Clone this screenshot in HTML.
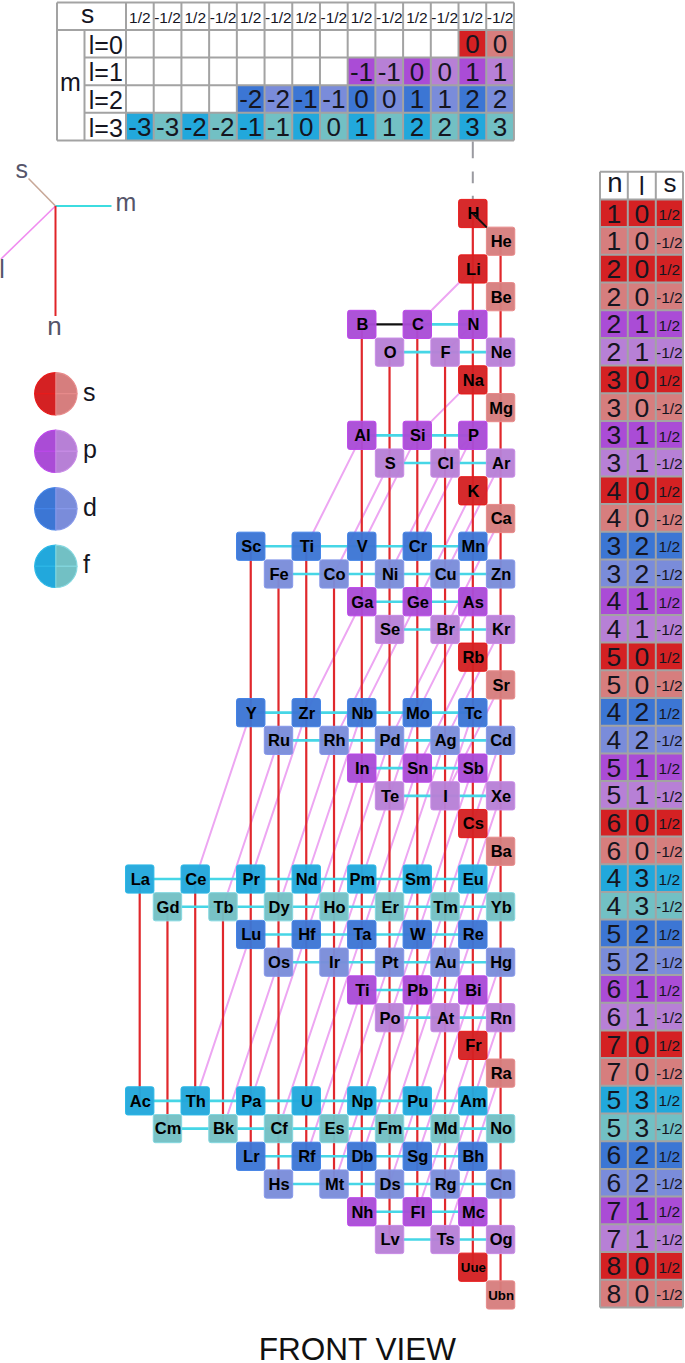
<!DOCTYPE html>
<html><head><meta charset="utf-8"><title>Quantum numbers periodic table - front view</title>
<style>
html,body{margin:0;padding:0;background:#fff;}
body{width:685px;height:1363px;overflow:hidden;}
svg{display:block;}
text{font-family:"Liberation Sans",sans-serif;text-anchor:middle;fill:#15151f;}
.tn{font-size:26px;}
.tr{font-size:26.5px;}
.th{font-size:25px;}
.ts{font-size:15.5px;}
.ax{font-size:25px;fill:#55556a;}
.lg{font-size:25px;text-anchor:start;}
.el{font-size:16.5px;font-weight:bold;fill:#000;}
.es{font-size:13.3px;font-weight:bold;fill:#000;}
.cap{font-size:31.5px;fill:#111;}
</style></head>
<body><svg width="685" height="1363" viewBox="0 0 685 1363">
<rect width="685" height="1363" fill="#fff"/>
<rect x="458.52" y="30.00" width="27.71" height="27.60" fill="#d42123"/>
<text x="472.38" y="53.00" class="tn">0</text>
<rect x="486.23" y="30.00" width="27.71" height="27.60" fill="#d67e7e"/>
<text x="500.09" y="53.00" class="tn">0</text>
<rect x="347.68" y="57.60" width="27.71" height="27.60" fill="#aa4cd6"/>
<text x="361.53" y="80.60" class="tn">-1</text>
<rect x="375.39" y="57.60" width="27.71" height="27.60" fill="#b780d6"/>
<text x="389.25" y="80.60" class="tn">-1</text>
<rect x="403.10" y="57.60" width="27.71" height="27.60" fill="#aa4cd6"/>
<text x="416.96" y="80.60" class="tn">0</text>
<rect x="430.81" y="57.60" width="27.71" height="27.60" fill="#b780d6"/>
<text x="444.66" y="80.60" class="tn">0</text>
<rect x="458.52" y="57.60" width="27.71" height="27.60" fill="#aa4cd6"/>
<text x="472.38" y="80.60" class="tn">1</text>
<rect x="486.23" y="57.60" width="27.71" height="27.60" fill="#b780d6"/>
<text x="500.09" y="80.60" class="tn">1</text>
<rect x="236.84" y="85.20" width="27.71" height="27.60" fill="#3c76d4"/>
<text x="250.69" y="108.20" class="tn">-2</text>
<rect x="264.55" y="85.20" width="27.71" height="27.60" fill="#7a8cda"/>
<text x="278.40" y="108.20" class="tn">-2</text>
<rect x="292.26" y="85.20" width="27.71" height="27.60" fill="#3c76d4"/>
<text x="306.12" y="108.20" class="tn">-1</text>
<rect x="319.97" y="85.20" width="27.71" height="27.60" fill="#7a8cda"/>
<text x="333.83" y="108.20" class="tn">-1</text>
<rect x="347.68" y="85.20" width="27.71" height="27.60" fill="#3c76d4"/>
<text x="361.53" y="108.20" class="tn">0</text>
<rect x="375.39" y="85.20" width="27.71" height="27.60" fill="#7a8cda"/>
<text x="389.25" y="108.20" class="tn">0</text>
<rect x="403.10" y="85.20" width="27.71" height="27.60" fill="#3c76d4"/>
<text x="416.96" y="108.20" class="tn">1</text>
<rect x="430.81" y="85.20" width="27.71" height="27.60" fill="#7a8cda"/>
<text x="444.66" y="108.20" class="tn">1</text>
<rect x="458.52" y="85.20" width="27.71" height="27.60" fill="#3c76d4"/>
<text x="472.38" y="108.20" class="tn">2</text>
<rect x="486.23" y="85.20" width="27.71" height="27.60" fill="#7a8cda"/>
<text x="500.09" y="108.20" class="tn">2</text>
<rect x="126.00" y="112.80" width="27.71" height="27.60" fill="#22a8dc"/>
<text x="139.86" y="135.80" class="tn">-3</text>
<rect x="153.71" y="112.80" width="27.71" height="27.60" fill="#72c0c4"/>
<text x="167.56" y="135.80" class="tn">-3</text>
<rect x="181.42" y="112.80" width="27.71" height="27.60" fill="#22a8dc"/>
<text x="195.28" y="135.80" class="tn">-2</text>
<rect x="209.13" y="112.80" width="27.71" height="27.60" fill="#72c0c4"/>
<text x="222.99" y="135.80" class="tn">-2</text>
<rect x="236.84" y="112.80" width="27.71" height="27.60" fill="#22a8dc"/>
<text x="250.69" y="135.80" class="tn">-1</text>
<rect x="264.55" y="112.80" width="27.71" height="27.60" fill="#72c0c4"/>
<text x="278.40" y="135.80" class="tn">-1</text>
<rect x="292.26" y="112.80" width="27.71" height="27.60" fill="#22a8dc"/>
<text x="306.12" y="135.80" class="tn">0</text>
<rect x="319.97" y="112.80" width="27.71" height="27.60" fill="#72c0c4"/>
<text x="333.83" y="135.80" class="tn">0</text>
<rect x="347.68" y="112.80" width="27.71" height="27.60" fill="#22a8dc"/>
<text x="361.53" y="135.80" class="tn">1</text>
<rect x="375.39" y="112.80" width="27.71" height="27.60" fill="#72c0c4"/>
<text x="389.25" y="135.80" class="tn">1</text>
<rect x="403.10" y="112.80" width="27.71" height="27.60" fill="#22a8dc"/>
<text x="416.96" y="135.80" class="tn">2</text>
<rect x="430.81" y="112.80" width="27.71" height="27.60" fill="#72c0c4"/>
<text x="444.66" y="135.80" class="tn">2</text>
<rect x="458.52" y="112.80" width="27.71" height="27.60" fill="#22a8dc"/>
<text x="472.38" y="135.80" class="tn">3</text>
<rect x="486.23" y="112.80" width="27.71" height="27.60" fill="#72c0c4"/>
<text x="500.09" y="135.80" class="tn">3</text>
<path d="M57.0 2.4H513.94 M57.0 30.0H513.94 M84.5 57.60H513.94 M84.5 85.20H513.94 M84.5 112.80H513.94 M57.0 140.40H513.94 M57.0 2.4V140.40 M84.5 30.00V140.40 M126.00 2.4V140.40 M153.71 2.4V140.40 M181.42 2.4V140.40 M209.13 2.4V140.40 M236.84 2.4V140.40 M264.55 2.4V140.40 M292.26 2.4V140.40 M319.97 2.4V140.40 M347.68 2.4V140.40 M375.39 2.4V140.40 M403.10 2.4V140.40 M430.81 2.4V140.40 M458.52 2.4V140.40 M486.23 2.4V140.40 M513.94 2.4V140.40" stroke="#a3a3a3" stroke-width="2" fill="none"/>
<text x="87.6" y="23.3" class="th" style="font-size:26.5px">s</text>
<text x="139.86" y="23" class="ts">1/2</text>
<text x="167.56" y="23" class="ts">-1/2</text>
<text x="195.28" y="23" class="ts">1/2</text>
<text x="222.99" y="23" class="ts">-1/2</text>
<text x="250.69" y="23" class="ts">1/2</text>
<text x="278.40" y="23" class="ts">-1/2</text>
<text x="306.12" y="23" class="ts">1/2</text>
<text x="333.83" y="23" class="ts">-1/2</text>
<text x="361.53" y="23" class="ts">1/2</text>
<text x="389.25" y="23" class="ts">-1/2</text>
<text x="416.96" y="23" class="ts">1/2</text>
<text x="444.66" y="23" class="ts">-1/2</text>
<text x="472.38" y="23" class="ts">1/2</text>
<text x="500.09" y="23" class="ts">-1/2</text>
<text x="70.5" y="90.5" class="th">m</text>
<text x="105.8" y="53.80" class="th">l=0</text>
<text x="105.8" y="81.40" class="th">l=1</text>
<text x="105.8" y="109.00" class="th">l=2</text>
<text x="105.8" y="136.60" class="th">l=3</text>
<path d="M472.8 141.5V158.3M472.8 171.4V183.3M472.8 195.8V199" stroke="#9a9aa0" stroke-width="2" fill="none"/>
<path d="M55.5 206L28.5 178.5" stroke="#c8a898" stroke-width="1.6" fill="none"/>
<path d="M55.5 206L1 259" stroke="#f08cf0" stroke-width="1.6" fill="none"/>
<path d="M55.5 206H111.5" stroke="#3cdce0" stroke-width="2.2" fill="none"/>
<path d="M55.5 206V316" stroke="#e02428" stroke-width="2" fill="none"/>
<text x="21.8" y="178" class="ax">s</text>
<text x="126" y="211" class="ax">m</text>
<text x="2" y="278" class="ax">l</text>
<text x="54.5" y="334.5" class="ax" style="font-size:26px">n</text>
<path d="M55.85 393.8V372.60A21.2 21.2 0 0 0 34.65 393.8Z" fill="#d42123" stroke="#e81818" stroke-width="1.1" stroke-linejoin="round"/>
<path d="M55.85 393.8V415.00A21.2 21.2 0 0 1 34.65 393.8Z" fill="#d42123" stroke="#e81818" stroke-width="1.1" stroke-linejoin="round"/>
<path d="M55.85 393.8V372.60A21.2 21.2 0 0 1 77.05 393.8Z" fill="#d67e7e" stroke="#e88a8a" stroke-width="1.1" stroke-linejoin="round"/>
<path d="M55.85 393.8V415.00A21.2 21.2 0 0 0 77.05 393.8Z" fill="#d67e7e" stroke="#e88a8a" stroke-width="1.1" stroke-linejoin="round"/>
<text x="83" y="400.8" class="lg">s</text>
<path d="M55.85 451.3V430.10A21.2 21.2 0 0 0 34.65 451.3Z" fill="#aa4cd6" stroke="#bc46ea" stroke-width="1.1" stroke-linejoin="round"/>
<path d="M55.85 451.3V472.50A21.2 21.2 0 0 1 34.65 451.3Z" fill="#aa4cd6" stroke="#bc46ea" stroke-width="1.1" stroke-linejoin="round"/>
<path d="M55.85 451.3V430.10A21.2 21.2 0 0 1 77.05 451.3Z" fill="#b780d6" stroke="#c88ae6" stroke-width="1.1" stroke-linejoin="round"/>
<path d="M55.85 451.3V472.50A21.2 21.2 0 0 0 77.05 451.3Z" fill="#b780d6" stroke="#c88ae6" stroke-width="1.1" stroke-linejoin="round"/>
<text x="83" y="458.3" class="lg">p</text>
<path d="M55.85 508.8V487.60A21.2 21.2 0 0 0 34.65 508.8Z" fill="#3c76d4" stroke="#4282e6" stroke-width="1.1" stroke-linejoin="round"/>
<path d="M55.85 508.8V530.00A21.2 21.2 0 0 1 34.65 508.8Z" fill="#3c76d4" stroke="#4282e6" stroke-width="1.1" stroke-linejoin="round"/>
<path d="M55.85 508.8V487.60A21.2 21.2 0 0 1 77.05 508.8Z" fill="#7a8cda" stroke="#8698ea" stroke-width="1.1" stroke-linejoin="round"/>
<path d="M55.85 508.8V530.00A21.2 21.2 0 0 0 77.05 508.8Z" fill="#7a8cda" stroke="#8698ea" stroke-width="1.1" stroke-linejoin="round"/>
<text x="83" y="515.8" class="lg">d</text>
<path d="M55.85 566.3V545.10A21.2 21.2 0 0 0 34.65 566.3Z" fill="#22a8dc" stroke="#2cb8e6" stroke-width="1.1" stroke-linejoin="round"/>
<path d="M55.85 566.3V587.50A21.2 21.2 0 0 1 34.65 566.3Z" fill="#22a8dc" stroke="#2cb8e6" stroke-width="1.1" stroke-linejoin="round"/>
<path d="M55.85 566.3V545.10A21.2 21.2 0 0 1 77.05 566.3Z" fill="#72c0c4" stroke="#84d8e0" stroke-width="1.1" stroke-linejoin="round"/>
<path d="M55.85 566.3V587.50A21.2 21.2 0 0 0 77.05 566.3Z" fill="#72c0c4" stroke="#84d8e0" stroke-width="1.1" stroke-linejoin="round"/>
<text x="83" y="573.3" class="lg">f</text>
<path d="M472.82 268.96L417.30 324.42 M500.58 296.69L445.06 352.15 M472.82 379.88L417.30 435.34 M500.58 407.61L445.06 463.07 M361.78 435.34L306.26 546.26 M417.30 435.34L361.78 546.26 M472.82 435.34L417.30 546.26 M389.54 463.07L334.02 573.99 M445.06 463.07L389.54 573.99 M500.58 463.07L445.06 573.99 M472.82 490.80L417.30 601.72 M500.58 518.53L445.06 629.45 M361.78 601.72L306.26 712.64 M417.30 601.72L361.78 712.64 M472.82 601.72L417.30 712.64 M389.54 629.45L334.02 740.37 M445.06 629.45L389.54 740.37 M500.58 629.45L445.06 740.37 M472.82 657.18L417.30 768.10 M500.58 684.91L445.06 795.83 M250.74 712.64L195.22 879.02 M306.26 712.64L250.74 879.02 M361.78 712.64L306.26 879.02 M417.30 712.64L361.78 879.02 M472.82 712.64L417.30 879.02 M278.50 740.37L222.98 906.75 M334.02 740.37L278.50 906.75 M389.54 740.37L334.02 906.75 M445.06 740.37L389.54 906.75 M500.58 740.37L445.06 906.75 M361.78 768.10L306.26 934.48 M417.30 768.10L361.78 934.48 M472.82 768.10L417.30 934.48 M389.54 795.83L334.02 962.21 M445.06 795.83L389.54 962.21 M500.58 795.83L445.06 962.21 M472.82 823.56L417.30 989.94 M500.58 851.29L445.06 1017.67 M250.74 934.48L195.22 1100.86 M306.26 934.48L250.74 1100.86 M361.78 934.48L306.26 1100.86 M417.30 934.48L361.78 1100.86 M472.82 934.48L417.30 1100.86 M278.50 962.21L222.98 1128.59 M334.02 962.21L278.50 1128.59 M389.54 962.21L334.02 1128.59 M445.06 962.21L389.54 1128.59 M500.58 962.21L445.06 1128.59 M361.78 989.94L306.26 1156.32 M417.30 989.94L361.78 1156.32 M472.82 989.94L417.30 1156.32 M389.54 1017.67L334.02 1184.05 M445.06 1017.67L389.54 1184.05 M500.58 1017.67L445.06 1184.05 M472.82 1045.40L417.30 1211.78 M500.58 1073.13L445.06 1239.51" stroke="#eda6f2" stroke-width="2" fill="none"/>
<path d="M472.82 213.50L472.82 268.96 M500.58 241.23L500.58 296.69 M472.82 268.96L472.82 379.88 M500.58 296.69L500.58 407.61 M361.78 324.42L361.78 435.34 M417.30 324.42L417.30 435.34 M472.82 324.42L472.82 435.34 M389.54 352.15L389.54 463.07 M445.06 352.15L445.06 463.07 M500.58 352.15L500.58 463.07 M472.82 379.88L472.82 490.80 M500.58 407.61L500.58 518.53 M361.78 435.34L361.78 601.72 M417.30 435.34L417.30 601.72 M472.82 435.34L472.82 601.72 M389.54 463.07L389.54 629.45 M445.06 463.07L445.06 629.45 M500.58 463.07L500.58 629.45 M472.82 490.80L472.82 657.18 M500.58 518.53L500.58 684.91 M250.74 546.26L250.74 712.64 M306.26 546.26L306.26 712.64 M361.78 546.26L361.78 712.64 M417.30 546.26L417.30 712.64 M472.82 546.26L472.82 712.64 M278.50 573.99L278.50 740.37 M334.02 573.99L334.02 740.37 M389.54 573.99L389.54 740.37 M445.06 573.99L445.06 740.37 M500.58 573.99L500.58 740.37 M361.78 601.72L361.78 768.10 M417.30 601.72L417.30 768.10 M472.82 601.72L472.82 768.10 M389.54 629.45L389.54 795.83 M445.06 629.45L445.06 795.83 M500.58 629.45L500.58 795.83 M472.82 657.18L472.82 823.56 M500.58 684.91L500.58 851.29 M250.74 712.64L250.74 934.48 M306.26 712.64L306.26 934.48 M361.78 712.64L361.78 934.48 M417.30 712.64L417.30 934.48 M472.82 712.64L472.82 934.48 M278.50 740.37L278.50 962.21 M334.02 740.37L334.02 962.21 M389.54 740.37L389.54 962.21 M445.06 740.37L445.06 962.21 M500.58 740.37L500.58 962.21 M361.78 768.10L361.78 989.94 M417.30 768.10L417.30 989.94 M472.82 768.10L472.82 989.94 M389.54 795.83L389.54 1017.67 M445.06 795.83L445.06 1017.67 M500.58 795.83L500.58 1017.67 M472.82 823.56L472.82 1045.40 M500.58 851.29L500.58 1073.13 M139.70 879.02L139.70 1100.86 M195.22 879.02L195.22 1100.86 M250.74 879.02L250.74 1100.86 M306.26 879.02L306.26 1100.86 M361.78 879.02L361.78 1100.86 M417.30 879.02L417.30 1100.86 M472.82 879.02L472.82 1100.86 M167.46 906.75L167.46 1128.59 M222.98 906.75L222.98 1128.59 M278.50 906.75L278.50 1128.59 M334.02 906.75L334.02 1128.59 M389.54 906.75L389.54 1128.59 M445.06 906.75L445.06 1128.59 M500.58 906.75L500.58 1128.59 M250.74 934.48L250.74 1156.32 M306.26 934.48L306.26 1156.32 M361.78 934.48L361.78 1156.32 M417.30 934.48L417.30 1156.32 M472.82 934.48L472.82 1156.32 M278.50 962.21L278.50 1184.05 M334.02 962.21L334.02 1184.05 M389.54 962.21L389.54 1184.05 M445.06 962.21L445.06 1184.05 M500.58 962.21L500.58 1184.05 M361.78 989.94L361.78 1211.78 M417.30 989.94L417.30 1211.78 M472.82 989.94L472.82 1211.78 M389.54 1017.67L389.54 1239.51 M445.06 1017.67L445.06 1239.51 M500.58 1017.67L500.58 1239.51 M472.82 1045.40L472.82 1267.24 M500.58 1073.13L500.58 1294.97" stroke="#e0282c" stroke-width="2.2" fill="none"/>
<path d="M417.30 324.42L472.82 324.42 M389.54 352.15L445.06 352.15 M445.06 352.15L500.58 352.15 M361.78 435.34L417.30 435.34 M417.30 435.34L472.82 435.34 M389.54 463.07L445.06 463.07 M445.06 463.07L500.58 463.07 M250.74 546.26L306.26 546.26 M306.26 546.26L361.78 546.26 M361.78 546.26L417.30 546.26 M417.30 546.26L472.82 546.26 M278.50 573.99L334.02 573.99 M334.02 573.99L389.54 573.99 M389.54 573.99L445.06 573.99 M445.06 573.99L500.58 573.99 M361.78 601.72L417.30 601.72 M417.30 601.72L472.82 601.72 M389.54 629.45L445.06 629.45 M445.06 629.45L500.58 629.45 M250.74 712.64L306.26 712.64 M306.26 712.64L361.78 712.64 M361.78 712.64L417.30 712.64 M417.30 712.64L472.82 712.64 M278.50 740.37L334.02 740.37 M334.02 740.37L389.54 740.37 M389.54 740.37L445.06 740.37 M445.06 740.37L500.58 740.37 M361.78 768.10L417.30 768.10 M417.30 768.10L472.82 768.10 M389.54 795.83L445.06 795.83 M445.06 795.83L500.58 795.83 M139.70 879.02L195.22 879.02 M195.22 879.02L250.74 879.02 M250.74 879.02L306.26 879.02 M306.26 879.02L361.78 879.02 M361.78 879.02L417.30 879.02 M417.30 879.02L472.82 879.02 M167.46 906.75L222.98 906.75 M222.98 906.75L278.50 906.75 M278.50 906.75L334.02 906.75 M334.02 906.75L389.54 906.75 M389.54 906.75L445.06 906.75 M445.06 906.75L500.58 906.75 M250.74 934.48L306.26 934.48 M306.26 934.48L361.78 934.48 M361.78 934.48L417.30 934.48 M417.30 934.48L472.82 934.48 M278.50 962.21L334.02 962.21 M334.02 962.21L389.54 962.21 M389.54 962.21L445.06 962.21 M445.06 962.21L500.58 962.21 M361.78 989.94L417.30 989.94 M417.30 989.94L472.82 989.94 M389.54 1017.67L445.06 1017.67 M445.06 1017.67L500.58 1017.67 M139.70 1100.86L195.22 1100.86 M195.22 1100.86L250.74 1100.86 M250.74 1100.86L306.26 1100.86 M306.26 1100.86L361.78 1100.86 M361.78 1100.86L417.30 1100.86 M417.30 1100.86L472.82 1100.86 M167.46 1128.59L222.98 1128.59 M222.98 1128.59L278.50 1128.59 M278.50 1128.59L334.02 1128.59 M334.02 1128.59L389.54 1128.59 M389.54 1128.59L445.06 1128.59 M445.06 1128.59L500.58 1128.59 M250.74 1156.32L306.26 1156.32 M306.26 1156.32L361.78 1156.32 M361.78 1156.32L417.30 1156.32 M417.30 1156.32L472.82 1156.32 M278.50 1184.05L334.02 1184.05 M334.02 1184.05L389.54 1184.05 M389.54 1184.05L445.06 1184.05 M445.06 1184.05L500.58 1184.05 M361.78 1211.78L417.30 1211.78 M417.30 1211.78L472.82 1211.78 M389.54 1239.51L445.06 1239.51 M445.06 1239.51L500.58 1239.51" stroke="#46d6e6" stroke-width="2.6" fill="none"/>
<path d="M361.78 324.42L417.30 324.42" stroke="#111" stroke-width="2.2"/>
<rect x="458.62" y="199.40" width="28.4" height="28.2" rx="2.2" fill="#d42123" fill-opacity="0.96" stroke="#e81818" stroke-width="1"/>
<text x="473.42" y="219.40" class="el">H</text>
<path d="M472.82 213.50L487.52 228.10" stroke="#111" stroke-width="2"/>
<rect x="486.38" y="227.13" width="28.4" height="28.2" rx="2.2" fill="#d67e7e" fill-opacity="0.96" stroke="#e88a8a" stroke-width="1"/>
<text x="501.18" y="247.13" class="el">He</text>
<rect x="458.62" y="254.86" width="28.4" height="28.2" rx="2.2" fill="#d42123" fill-opacity="0.96" stroke="#e81818" stroke-width="1"/>
<text x="473.42" y="274.86" class="el">Li</text>
<rect x="486.38" y="282.59" width="28.4" height="28.2" rx="2.2" fill="#d67e7e" fill-opacity="0.96" stroke="#e88a8a" stroke-width="1"/>
<text x="501.18" y="302.59" class="el">Be</text>
<rect x="347.58" y="310.32" width="28.4" height="28.2" rx="2.2" fill="#aa4cd6" fill-opacity="0.96" stroke="#bc46ea" stroke-width="1"/>
<text x="362.38" y="330.32" class="el">B</text>
<rect x="403.10" y="310.32" width="28.4" height="28.2" rx="2.2" fill="#aa4cd6" fill-opacity="0.96" stroke="#bc46ea" stroke-width="1"/>
<text x="417.90" y="330.32" class="el">C</text>
<rect x="458.62" y="310.32" width="28.4" height="28.2" rx="2.2" fill="#aa4cd6" fill-opacity="0.96" stroke="#bc46ea" stroke-width="1"/>
<text x="473.42" y="330.32" class="el">N</text>
<rect x="375.34" y="338.05" width="28.4" height="28.2" rx="2.2" fill="#b780d6" fill-opacity="0.96" stroke="#c88ae6" stroke-width="1"/>
<text x="390.14" y="358.05" class="el">O</text>
<rect x="430.86" y="338.05" width="28.4" height="28.2" rx="2.2" fill="#b780d6" fill-opacity="0.96" stroke="#c88ae6" stroke-width="1"/>
<text x="445.66" y="358.05" class="el">F</text>
<rect x="486.38" y="338.05" width="28.4" height="28.2" rx="2.2" fill="#b780d6" fill-opacity="0.96" stroke="#c88ae6" stroke-width="1"/>
<text x="501.18" y="358.05" class="el">Ne</text>
<rect x="458.62" y="365.78" width="28.4" height="28.2" rx="2.2" fill="#d42123" fill-opacity="0.96" stroke="#e81818" stroke-width="1"/>
<text x="473.42" y="385.78" class="el">Na</text>
<rect x="486.38" y="393.51" width="28.4" height="28.2" rx="2.2" fill="#d67e7e" fill-opacity="0.96" stroke="#e88a8a" stroke-width="1"/>
<text x="501.18" y="413.51" class="el">Mg</text>
<rect x="347.58" y="421.24" width="28.4" height="28.2" rx="2.2" fill="#aa4cd6" fill-opacity="0.96" stroke="#bc46ea" stroke-width="1"/>
<text x="362.38" y="441.24" class="el">Al</text>
<rect x="403.10" y="421.24" width="28.4" height="28.2" rx="2.2" fill="#aa4cd6" fill-opacity="0.96" stroke="#bc46ea" stroke-width="1"/>
<text x="417.90" y="441.24" class="el">Si</text>
<rect x="458.62" y="421.24" width="28.4" height="28.2" rx="2.2" fill="#aa4cd6" fill-opacity="0.96" stroke="#bc46ea" stroke-width="1"/>
<text x="473.42" y="441.24" class="el">P</text>
<rect x="375.34" y="448.97" width="28.4" height="28.2" rx="2.2" fill="#b780d6" fill-opacity="0.96" stroke="#c88ae6" stroke-width="1"/>
<text x="390.14" y="468.97" class="el">S</text>
<rect x="430.86" y="448.97" width="28.4" height="28.2" rx="2.2" fill="#b780d6" fill-opacity="0.96" stroke="#c88ae6" stroke-width="1"/>
<text x="445.66" y="468.97" class="el">Cl</text>
<rect x="486.38" y="448.97" width="28.4" height="28.2" rx="2.2" fill="#b780d6" fill-opacity="0.96" stroke="#c88ae6" stroke-width="1"/>
<text x="501.18" y="468.97" class="el">Ar</text>
<rect x="458.62" y="476.70" width="28.4" height="28.2" rx="2.2" fill="#d42123" fill-opacity="0.96" stroke="#e81818" stroke-width="1"/>
<text x="473.42" y="496.70" class="el">K</text>
<rect x="486.38" y="504.43" width="28.4" height="28.2" rx="2.2" fill="#d67e7e" fill-opacity="0.96" stroke="#e88a8a" stroke-width="1"/>
<text x="501.18" y="524.43" class="el">Ca</text>
<rect x="236.54" y="532.16" width="28.4" height="28.2" rx="2.2" fill="#3c76d4" fill-opacity="0.96" stroke="#4282e6" stroke-width="1"/>
<text x="251.34" y="552.16" class="el">Sc</text>
<rect x="292.06" y="532.16" width="28.4" height="28.2" rx="2.2" fill="#3c76d4" fill-opacity="0.96" stroke="#4282e6" stroke-width="1"/>
<text x="306.86" y="552.16" class="el">Ti</text>
<rect x="347.58" y="532.16" width="28.4" height="28.2" rx="2.2" fill="#3c76d4" fill-opacity="0.96" stroke="#4282e6" stroke-width="1"/>
<text x="362.38" y="552.16" class="el">V</text>
<rect x="403.10" y="532.16" width="28.4" height="28.2" rx="2.2" fill="#3c76d4" fill-opacity="0.96" stroke="#4282e6" stroke-width="1"/>
<text x="417.90" y="552.16" class="el">Cr</text>
<rect x="458.62" y="532.16" width="28.4" height="28.2" rx="2.2" fill="#3c76d4" fill-opacity="0.96" stroke="#4282e6" stroke-width="1"/>
<text x="473.42" y="552.16" class="el">Mn</text>
<rect x="264.30" y="559.89" width="28.4" height="28.2" rx="2.2" fill="#7a8cda" fill-opacity="0.96" stroke="#8698ea" stroke-width="1"/>
<text x="279.10" y="579.89" class="el">Fe</text>
<rect x="319.82" y="559.89" width="28.4" height="28.2" rx="2.2" fill="#7a8cda" fill-opacity="0.96" stroke="#8698ea" stroke-width="1"/>
<text x="334.62" y="579.89" class="el">Co</text>
<rect x="375.34" y="559.89" width="28.4" height="28.2" rx="2.2" fill="#7a8cda" fill-opacity="0.96" stroke="#8698ea" stroke-width="1"/>
<text x="390.14" y="579.89" class="el">Ni</text>
<rect x="430.86" y="559.89" width="28.4" height="28.2" rx="2.2" fill="#7a8cda" fill-opacity="0.96" stroke="#8698ea" stroke-width="1"/>
<text x="445.66" y="579.89" class="el">Cu</text>
<rect x="486.38" y="559.89" width="28.4" height="28.2" rx="2.2" fill="#7a8cda" fill-opacity="0.96" stroke="#8698ea" stroke-width="1"/>
<text x="501.18" y="579.89" class="el">Zn</text>
<rect x="347.58" y="587.62" width="28.4" height="28.2" rx="2.2" fill="#aa4cd6" fill-opacity="0.96" stroke="#bc46ea" stroke-width="1"/>
<text x="362.38" y="607.62" class="el">Ga</text>
<rect x="403.10" y="587.62" width="28.4" height="28.2" rx="2.2" fill="#aa4cd6" fill-opacity="0.96" stroke="#bc46ea" stroke-width="1"/>
<text x="417.90" y="607.62" class="el">Ge</text>
<rect x="458.62" y="587.62" width="28.4" height="28.2" rx="2.2" fill="#aa4cd6" fill-opacity="0.96" stroke="#bc46ea" stroke-width="1"/>
<text x="473.42" y="607.62" class="el">As</text>
<rect x="375.34" y="615.35" width="28.4" height="28.2" rx="2.2" fill="#b780d6" fill-opacity="0.96" stroke="#c88ae6" stroke-width="1"/>
<text x="390.14" y="635.35" class="el">Se</text>
<rect x="430.86" y="615.35" width="28.4" height="28.2" rx="2.2" fill="#b780d6" fill-opacity="0.96" stroke="#c88ae6" stroke-width="1"/>
<text x="445.66" y="635.35" class="el">Br</text>
<rect x="486.38" y="615.35" width="28.4" height="28.2" rx="2.2" fill="#b780d6" fill-opacity="0.96" stroke="#c88ae6" stroke-width="1"/>
<text x="501.18" y="635.35" class="el">Kr</text>
<rect x="458.62" y="643.08" width="28.4" height="28.2" rx="2.2" fill="#d42123" fill-opacity="0.96" stroke="#e81818" stroke-width="1"/>
<text x="473.42" y="663.08" class="el">Rb</text>
<rect x="486.38" y="670.81" width="28.4" height="28.2" rx="2.2" fill="#d67e7e" fill-opacity="0.96" stroke="#e88a8a" stroke-width="1"/>
<text x="501.18" y="690.81" class="el">Sr</text>
<rect x="236.54" y="698.54" width="28.4" height="28.2" rx="2.2" fill="#3c76d4" fill-opacity="0.96" stroke="#4282e6" stroke-width="1"/>
<text x="251.34" y="718.54" class="el">Y</text>
<rect x="292.06" y="698.54" width="28.4" height="28.2" rx="2.2" fill="#3c76d4" fill-opacity="0.96" stroke="#4282e6" stroke-width="1"/>
<text x="306.86" y="718.54" class="el">Zr</text>
<rect x="347.58" y="698.54" width="28.4" height="28.2" rx="2.2" fill="#3c76d4" fill-opacity="0.96" stroke="#4282e6" stroke-width="1"/>
<text x="362.38" y="718.54" class="el">Nb</text>
<rect x="403.10" y="698.54" width="28.4" height="28.2" rx="2.2" fill="#3c76d4" fill-opacity="0.96" stroke="#4282e6" stroke-width="1"/>
<text x="417.90" y="718.54" class="el">Mo</text>
<rect x="458.62" y="698.54" width="28.4" height="28.2" rx="2.2" fill="#3c76d4" fill-opacity="0.96" stroke="#4282e6" stroke-width="1"/>
<text x="473.42" y="718.54" class="el">Tc</text>
<rect x="264.30" y="726.27" width="28.4" height="28.2" rx="2.2" fill="#7a8cda" fill-opacity="0.96" stroke="#8698ea" stroke-width="1"/>
<text x="279.10" y="746.27" class="el">Ru</text>
<rect x="319.82" y="726.27" width="28.4" height="28.2" rx="2.2" fill="#7a8cda" fill-opacity="0.96" stroke="#8698ea" stroke-width="1"/>
<text x="334.62" y="746.27" class="el">Rh</text>
<rect x="375.34" y="726.27" width="28.4" height="28.2" rx="2.2" fill="#7a8cda" fill-opacity="0.96" stroke="#8698ea" stroke-width="1"/>
<text x="390.14" y="746.27" class="el">Pd</text>
<rect x="430.86" y="726.27" width="28.4" height="28.2" rx="2.2" fill="#7a8cda" fill-opacity="0.96" stroke="#8698ea" stroke-width="1"/>
<text x="445.66" y="746.27" class="el">Ag</text>
<rect x="486.38" y="726.27" width="28.4" height="28.2" rx="2.2" fill="#7a8cda" fill-opacity="0.96" stroke="#8698ea" stroke-width="1"/>
<text x="501.18" y="746.27" class="el">Cd</text>
<rect x="347.58" y="754.00" width="28.4" height="28.2" rx="2.2" fill="#aa4cd6" fill-opacity="0.96" stroke="#bc46ea" stroke-width="1"/>
<text x="362.38" y="774.00" class="el">In</text>
<rect x="403.10" y="754.00" width="28.4" height="28.2" rx="2.2" fill="#aa4cd6" fill-opacity="0.96" stroke="#bc46ea" stroke-width="1"/>
<text x="417.90" y="774.00" class="el">Sn</text>
<rect x="458.62" y="754.00" width="28.4" height="28.2" rx="2.2" fill="#aa4cd6" fill-opacity="0.96" stroke="#bc46ea" stroke-width="1"/>
<text x="473.42" y="774.00" class="el">Sb</text>
<rect x="375.34" y="781.73" width="28.4" height="28.2" rx="2.2" fill="#b780d6" fill-opacity="0.96" stroke="#c88ae6" stroke-width="1"/>
<text x="390.14" y="801.73" class="el">Te</text>
<rect x="430.86" y="781.73" width="28.4" height="28.2" rx="2.2" fill="#b780d6" fill-opacity="0.96" stroke="#c88ae6" stroke-width="1"/>
<text x="445.66" y="801.73" class="el">I</text>
<rect x="486.38" y="781.73" width="28.4" height="28.2" rx="2.2" fill="#b780d6" fill-opacity="0.96" stroke="#c88ae6" stroke-width="1"/>
<text x="501.18" y="801.73" class="el">Xe</text>
<rect x="458.62" y="809.46" width="28.4" height="28.2" rx="2.2" fill="#d42123" fill-opacity="0.96" stroke="#e81818" stroke-width="1"/>
<text x="473.42" y="829.46" class="el">Cs</text>
<rect x="486.38" y="837.19" width="28.4" height="28.2" rx="2.2" fill="#d67e7e" fill-opacity="0.96" stroke="#e88a8a" stroke-width="1"/>
<text x="501.18" y="857.19" class="el">Ba</text>
<rect x="125.50" y="864.92" width="28.4" height="28.2" rx="2.2" fill="#22a8dc" fill-opacity="0.96" stroke="#2cb8e6" stroke-width="1"/>
<text x="140.30" y="884.92" class="el">La</text>
<rect x="181.02" y="864.92" width="28.4" height="28.2" rx="2.2" fill="#22a8dc" fill-opacity="0.96" stroke="#2cb8e6" stroke-width="1"/>
<text x="195.82" y="884.92" class="el">Ce</text>
<rect x="236.54" y="864.92" width="28.4" height="28.2" rx="2.2" fill="#22a8dc" fill-opacity="0.96" stroke="#2cb8e6" stroke-width="1"/>
<text x="251.34" y="884.92" class="el">Pr</text>
<rect x="292.06" y="864.92" width="28.4" height="28.2" rx="2.2" fill="#22a8dc" fill-opacity="0.96" stroke="#2cb8e6" stroke-width="1"/>
<text x="306.86" y="884.92" class="el">Nd</text>
<rect x="347.58" y="864.92" width="28.4" height="28.2" rx="2.2" fill="#22a8dc" fill-opacity="0.96" stroke="#2cb8e6" stroke-width="1"/>
<text x="362.38" y="884.92" class="el">Pm</text>
<rect x="403.10" y="864.92" width="28.4" height="28.2" rx="2.2" fill="#22a8dc" fill-opacity="0.96" stroke="#2cb8e6" stroke-width="1"/>
<text x="417.90" y="884.92" class="el">Sm</text>
<rect x="458.62" y="864.92" width="28.4" height="28.2" rx="2.2" fill="#22a8dc" fill-opacity="0.96" stroke="#2cb8e6" stroke-width="1"/>
<text x="473.42" y="884.92" class="el">Eu</text>
<rect x="153.26" y="892.65" width="28.4" height="28.2" rx="2.2" fill="#72c0c4" fill-opacity="0.96" stroke="#84d8e0" stroke-width="1"/>
<text x="168.06" y="912.65" class="el">Gd</text>
<rect x="208.78" y="892.65" width="28.4" height="28.2" rx="2.2" fill="#72c0c4" fill-opacity="0.96" stroke="#84d8e0" stroke-width="1"/>
<text x="223.58" y="912.65" class="el">Tb</text>
<rect x="264.30" y="892.65" width="28.4" height="28.2" rx="2.2" fill="#72c0c4" fill-opacity="0.96" stroke="#84d8e0" stroke-width="1"/>
<text x="279.10" y="912.65" class="el">Dy</text>
<rect x="319.82" y="892.65" width="28.4" height="28.2" rx="2.2" fill="#72c0c4" fill-opacity="0.96" stroke="#84d8e0" stroke-width="1"/>
<text x="334.62" y="912.65" class="el">Ho</text>
<rect x="375.34" y="892.65" width="28.4" height="28.2" rx="2.2" fill="#72c0c4" fill-opacity="0.96" stroke="#84d8e0" stroke-width="1"/>
<text x="390.14" y="912.65" class="el">Er</text>
<rect x="430.86" y="892.65" width="28.4" height="28.2" rx="2.2" fill="#72c0c4" fill-opacity="0.96" stroke="#84d8e0" stroke-width="1"/>
<text x="445.66" y="912.65" class="el">Tm</text>
<rect x="486.38" y="892.65" width="28.4" height="28.2" rx="2.2" fill="#72c0c4" fill-opacity="0.96" stroke="#84d8e0" stroke-width="1"/>
<text x="501.18" y="912.65" class="el">Yb</text>
<rect x="236.54" y="920.38" width="28.4" height="28.2" rx="2.2" fill="#3c76d4" fill-opacity="0.96" stroke="#4282e6" stroke-width="1"/>
<text x="251.34" y="940.38" class="el">Lu</text>
<rect x="292.06" y="920.38" width="28.4" height="28.2" rx="2.2" fill="#3c76d4" fill-opacity="0.96" stroke="#4282e6" stroke-width="1"/>
<text x="306.86" y="940.38" class="el">Hf</text>
<rect x="347.58" y="920.38" width="28.4" height="28.2" rx="2.2" fill="#3c76d4" fill-opacity="0.96" stroke="#4282e6" stroke-width="1"/>
<text x="362.38" y="940.38" class="el">Ta</text>
<rect x="403.10" y="920.38" width="28.4" height="28.2" rx="2.2" fill="#3c76d4" fill-opacity="0.96" stroke="#4282e6" stroke-width="1"/>
<text x="417.90" y="940.38" class="el">W</text>
<rect x="458.62" y="920.38" width="28.4" height="28.2" rx="2.2" fill="#3c76d4" fill-opacity="0.96" stroke="#4282e6" stroke-width="1"/>
<text x="473.42" y="940.38" class="el">Re</text>
<rect x="264.30" y="948.11" width="28.4" height="28.2" rx="2.2" fill="#7a8cda" fill-opacity="0.96" stroke="#8698ea" stroke-width="1"/>
<text x="279.10" y="968.11" class="el">Os</text>
<rect x="319.82" y="948.11" width="28.4" height="28.2" rx="2.2" fill="#7a8cda" fill-opacity="0.96" stroke="#8698ea" stroke-width="1"/>
<text x="334.62" y="968.11" class="el">Ir</text>
<rect x="375.34" y="948.11" width="28.4" height="28.2" rx="2.2" fill="#7a8cda" fill-opacity="0.96" stroke="#8698ea" stroke-width="1"/>
<text x="390.14" y="968.11" class="el">Pt</text>
<rect x="430.86" y="948.11" width="28.4" height="28.2" rx="2.2" fill="#7a8cda" fill-opacity="0.96" stroke="#8698ea" stroke-width="1"/>
<text x="445.66" y="968.11" class="el">Au</text>
<rect x="486.38" y="948.11" width="28.4" height="28.2" rx="2.2" fill="#7a8cda" fill-opacity="0.96" stroke="#8698ea" stroke-width="1"/>
<text x="501.18" y="968.11" class="el">Hg</text>
<rect x="347.58" y="975.84" width="28.4" height="28.2" rx="2.2" fill="#aa4cd6" fill-opacity="0.96" stroke="#bc46ea" stroke-width="1"/>
<text x="362.38" y="995.84" class="el">Ti</text>
<rect x="403.10" y="975.84" width="28.4" height="28.2" rx="2.2" fill="#aa4cd6" fill-opacity="0.96" stroke="#bc46ea" stroke-width="1"/>
<text x="417.90" y="995.84" class="el">Pb</text>
<rect x="458.62" y="975.84" width="28.4" height="28.2" rx="2.2" fill="#aa4cd6" fill-opacity="0.96" stroke="#bc46ea" stroke-width="1"/>
<text x="473.42" y="995.84" class="el">Bi</text>
<rect x="375.34" y="1003.57" width="28.4" height="28.2" rx="2.2" fill="#b780d6" fill-opacity="0.96" stroke="#c88ae6" stroke-width="1"/>
<text x="390.14" y="1023.57" class="el">Po</text>
<rect x="430.86" y="1003.57" width="28.4" height="28.2" rx="2.2" fill="#b780d6" fill-opacity="0.96" stroke="#c88ae6" stroke-width="1"/>
<text x="445.66" y="1023.57" class="el">At</text>
<rect x="486.38" y="1003.57" width="28.4" height="28.2" rx="2.2" fill="#b780d6" fill-opacity="0.96" stroke="#c88ae6" stroke-width="1"/>
<text x="501.18" y="1023.57" class="el">Rn</text>
<rect x="458.62" y="1031.30" width="28.4" height="28.2" rx="2.2" fill="#d42123" fill-opacity="0.96" stroke="#e81818" stroke-width="1"/>
<text x="473.42" y="1051.30" class="el">Fr</text>
<rect x="486.38" y="1059.03" width="28.4" height="28.2" rx="2.2" fill="#d67e7e" fill-opacity="0.96" stroke="#e88a8a" stroke-width="1"/>
<text x="501.18" y="1079.03" class="el">Ra</text>
<rect x="125.50" y="1086.76" width="28.4" height="28.2" rx="2.2" fill="#22a8dc" fill-opacity="0.96" stroke="#2cb8e6" stroke-width="1"/>
<text x="140.30" y="1106.76" class="el">Ac</text>
<rect x="181.02" y="1086.76" width="28.4" height="28.2" rx="2.2" fill="#22a8dc" fill-opacity="0.96" stroke="#2cb8e6" stroke-width="1"/>
<text x="195.82" y="1106.76" class="el">Th</text>
<rect x="236.54" y="1086.76" width="28.4" height="28.2" rx="2.2" fill="#22a8dc" fill-opacity="0.96" stroke="#2cb8e6" stroke-width="1"/>
<text x="251.34" y="1106.76" class="el">Pa</text>
<rect x="292.06" y="1086.76" width="28.4" height="28.2" rx="2.2" fill="#22a8dc" fill-opacity="0.96" stroke="#2cb8e6" stroke-width="1"/>
<text x="306.86" y="1106.76" class="el">U</text>
<rect x="347.58" y="1086.76" width="28.4" height="28.2" rx="2.2" fill="#22a8dc" fill-opacity="0.96" stroke="#2cb8e6" stroke-width="1"/>
<text x="362.38" y="1106.76" class="el">Np</text>
<rect x="403.10" y="1086.76" width="28.4" height="28.2" rx="2.2" fill="#22a8dc" fill-opacity="0.96" stroke="#2cb8e6" stroke-width="1"/>
<text x="417.90" y="1106.76" class="el">Pu</text>
<rect x="458.62" y="1086.76" width="28.4" height="28.2" rx="2.2" fill="#22a8dc" fill-opacity="0.96" stroke="#2cb8e6" stroke-width="1"/>
<text x="473.42" y="1106.76" class="el">Am</text>
<rect x="153.26" y="1114.49" width="28.4" height="28.2" rx="2.2" fill="#72c0c4" fill-opacity="0.96" stroke="#84d8e0" stroke-width="1"/>
<text x="168.06" y="1134.49" class="el">Cm</text>
<rect x="208.78" y="1114.49" width="28.4" height="28.2" rx="2.2" fill="#72c0c4" fill-opacity="0.96" stroke="#84d8e0" stroke-width="1"/>
<text x="223.58" y="1134.49" class="el">Bk</text>
<rect x="264.30" y="1114.49" width="28.4" height="28.2" rx="2.2" fill="#72c0c4" fill-opacity="0.96" stroke="#84d8e0" stroke-width="1"/>
<text x="279.10" y="1134.49" class="el">Cf</text>
<rect x="319.82" y="1114.49" width="28.4" height="28.2" rx="2.2" fill="#72c0c4" fill-opacity="0.96" stroke="#84d8e0" stroke-width="1"/>
<text x="334.62" y="1134.49" class="el">Es</text>
<rect x="375.34" y="1114.49" width="28.4" height="28.2" rx="2.2" fill="#72c0c4" fill-opacity="0.96" stroke="#84d8e0" stroke-width="1"/>
<text x="390.14" y="1134.49" class="el">Fm</text>
<rect x="430.86" y="1114.49" width="28.4" height="28.2" rx="2.2" fill="#72c0c4" fill-opacity="0.96" stroke="#84d8e0" stroke-width="1"/>
<text x="445.66" y="1134.49" class="el">Md</text>
<rect x="486.38" y="1114.49" width="28.4" height="28.2" rx="2.2" fill="#72c0c4" fill-opacity="0.96" stroke="#84d8e0" stroke-width="1"/>
<text x="501.18" y="1134.49" class="el">No</text>
<rect x="236.54" y="1142.22" width="28.4" height="28.2" rx="2.2" fill="#3c76d4" fill-opacity="0.96" stroke="#4282e6" stroke-width="1"/>
<text x="251.34" y="1162.22" class="el">Lr</text>
<rect x="292.06" y="1142.22" width="28.4" height="28.2" rx="2.2" fill="#3c76d4" fill-opacity="0.96" stroke="#4282e6" stroke-width="1"/>
<text x="306.86" y="1162.22" class="el">Rf</text>
<rect x="347.58" y="1142.22" width="28.4" height="28.2" rx="2.2" fill="#3c76d4" fill-opacity="0.96" stroke="#4282e6" stroke-width="1"/>
<text x="362.38" y="1162.22" class="el">Db</text>
<rect x="403.10" y="1142.22" width="28.4" height="28.2" rx="2.2" fill="#3c76d4" fill-opacity="0.96" stroke="#4282e6" stroke-width="1"/>
<text x="417.90" y="1162.22" class="el">Sg</text>
<rect x="458.62" y="1142.22" width="28.4" height="28.2" rx="2.2" fill="#3c76d4" fill-opacity="0.96" stroke="#4282e6" stroke-width="1"/>
<text x="473.42" y="1162.22" class="el">Bh</text>
<rect x="264.30" y="1169.95" width="28.4" height="28.2" rx="2.2" fill="#7a8cda" fill-opacity="0.96" stroke="#8698ea" stroke-width="1"/>
<text x="279.10" y="1189.95" class="el">Hs</text>
<rect x="319.82" y="1169.95" width="28.4" height="28.2" rx="2.2" fill="#7a8cda" fill-opacity="0.96" stroke="#8698ea" stroke-width="1"/>
<text x="334.62" y="1189.95" class="el">Mt</text>
<rect x="375.34" y="1169.95" width="28.4" height="28.2" rx="2.2" fill="#7a8cda" fill-opacity="0.96" stroke="#8698ea" stroke-width="1"/>
<text x="390.14" y="1189.95" class="el">Ds</text>
<rect x="430.86" y="1169.95" width="28.4" height="28.2" rx="2.2" fill="#7a8cda" fill-opacity="0.96" stroke="#8698ea" stroke-width="1"/>
<text x="445.66" y="1189.95" class="el">Rg</text>
<rect x="486.38" y="1169.95" width="28.4" height="28.2" rx="2.2" fill="#7a8cda" fill-opacity="0.96" stroke="#8698ea" stroke-width="1"/>
<text x="501.18" y="1189.95" class="el">Cn</text>
<rect x="347.58" y="1197.68" width="28.4" height="28.2" rx="2.2" fill="#aa4cd6" fill-opacity="0.96" stroke="#bc46ea" stroke-width="1"/>
<text x="362.38" y="1217.68" class="el">Nh</text>
<rect x="403.10" y="1197.68" width="28.4" height="28.2" rx="2.2" fill="#aa4cd6" fill-opacity="0.96" stroke="#bc46ea" stroke-width="1"/>
<text x="417.90" y="1217.68" class="el">Fl</text>
<rect x="458.62" y="1197.68" width="28.4" height="28.2" rx="2.2" fill="#aa4cd6" fill-opacity="0.96" stroke="#bc46ea" stroke-width="1"/>
<text x="473.42" y="1217.68" class="el">Mc</text>
<rect x="375.34" y="1225.41" width="28.4" height="28.2" rx="2.2" fill="#b780d6" fill-opacity="0.96" stroke="#c88ae6" stroke-width="1"/>
<text x="390.14" y="1245.41" class="el">Lv</text>
<rect x="430.86" y="1225.41" width="28.4" height="28.2" rx="2.2" fill="#b780d6" fill-opacity="0.96" stroke="#c88ae6" stroke-width="1"/>
<text x="445.66" y="1245.41" class="el">Ts</text>
<rect x="486.38" y="1225.41" width="28.4" height="28.2" rx="2.2" fill="#b780d6" fill-opacity="0.96" stroke="#c88ae6" stroke-width="1"/>
<text x="501.18" y="1245.41" class="el">Og</text>
<rect x="458.62" y="1253.14" width="28.4" height="28.2" rx="2.2" fill="#d42123" fill-opacity="0.96" stroke="#e81818" stroke-width="1"/>
<text x="473.42" y="1272.14" class="es">Uue</text>
<rect x="486.38" y="1280.87" width="28.4" height="28.2" rx="2.2" fill="#d67e7e" fill-opacity="0.96" stroke="#e88a8a" stroke-width="1"/>
<text x="501.18" y="1299.87" class="es">Ubn</text>
<rect x="600.0" y="199.40" width="83.0" height="27.7" fill="#d42123"/>
<text x="613.90" y="222.60" class="tr">1</text>
<text x="641.80" y="222.60" class="tr">0</text>
<text x="669.40" y="219.90" class="ts">1/2</text>
<rect x="600.0" y="227.10" width="83.0" height="27.7" fill="#d67e7e"/>
<text x="613.90" y="250.30" class="tr">1</text>
<text x="641.80" y="250.30" class="tr">0</text>
<text x="669.40" y="247.60" class="ts">-1/2</text>
<rect x="600.0" y="254.80" width="83.0" height="27.7" fill="#d42123"/>
<text x="613.90" y="278.00" class="tr">2</text>
<text x="641.80" y="278.00" class="tr">0</text>
<text x="669.40" y="275.30" class="ts">1/2</text>
<rect x="600.0" y="282.50" width="83.0" height="27.7" fill="#d67e7e"/>
<text x="613.90" y="305.70" class="tr">2</text>
<text x="641.80" y="305.70" class="tr">0</text>
<text x="669.40" y="303.00" class="ts">-1/2</text>
<rect x="600.0" y="310.20" width="83.0" height="27.7" fill="#aa4cd6"/>
<text x="613.90" y="333.40" class="tr">2</text>
<text x="641.80" y="333.40" class="tr">1</text>
<text x="669.40" y="330.70" class="ts">1/2</text>
<rect x="600.0" y="337.90" width="83.0" height="27.7" fill="#b780d6"/>
<text x="613.90" y="361.10" class="tr">2</text>
<text x="641.80" y="361.10" class="tr">1</text>
<text x="669.40" y="358.40" class="ts">-1/2</text>
<rect x="600.0" y="365.60" width="83.0" height="27.7" fill="#d42123"/>
<text x="613.90" y="388.80" class="tr">3</text>
<text x="641.80" y="388.80" class="tr">0</text>
<text x="669.40" y="386.10" class="ts">1/2</text>
<rect x="600.0" y="393.30" width="83.0" height="27.7" fill="#d67e7e"/>
<text x="613.90" y="416.50" class="tr">3</text>
<text x="641.80" y="416.50" class="tr">0</text>
<text x="669.40" y="413.80" class="ts">-1/2</text>
<rect x="600.0" y="421.00" width="83.0" height="27.7" fill="#aa4cd6"/>
<text x="613.90" y="444.20" class="tr">3</text>
<text x="641.80" y="444.20" class="tr">1</text>
<text x="669.40" y="441.50" class="ts">1/2</text>
<rect x="600.0" y="448.70" width="83.0" height="27.7" fill="#b780d6"/>
<text x="613.90" y="471.90" class="tr">3</text>
<text x="641.80" y="471.90" class="tr">1</text>
<text x="669.40" y="469.20" class="ts">-1/2</text>
<rect x="600.0" y="476.40" width="83.0" height="27.7" fill="#d42123"/>
<text x="613.90" y="499.60" class="tr">4</text>
<text x="641.80" y="499.60" class="tr">0</text>
<text x="669.40" y="496.90" class="ts">1/2</text>
<rect x="600.0" y="504.10" width="83.0" height="27.7" fill="#d67e7e"/>
<text x="613.90" y="527.30" class="tr">4</text>
<text x="641.80" y="527.30" class="tr">0</text>
<text x="669.40" y="524.60" class="ts">-1/2</text>
<rect x="600.0" y="531.80" width="83.0" height="27.7" fill="#3c76d4"/>
<text x="613.90" y="555.00" class="tr">3</text>
<text x="641.80" y="555.00" class="tr">2</text>
<text x="669.40" y="552.30" class="ts">1/2</text>
<rect x="600.0" y="559.50" width="83.0" height="27.7" fill="#7a8cda"/>
<text x="613.90" y="582.70" class="tr">3</text>
<text x="641.80" y="582.70" class="tr">2</text>
<text x="669.40" y="580.00" class="ts">-1/2</text>
<rect x="600.0" y="587.20" width="83.0" height="27.7" fill="#aa4cd6"/>
<text x="613.90" y="610.40" class="tr">4</text>
<text x="641.80" y="610.40" class="tr">1</text>
<text x="669.40" y="607.70" class="ts">1/2</text>
<rect x="600.0" y="614.90" width="83.0" height="27.7" fill="#b780d6"/>
<text x="613.90" y="638.10" class="tr">4</text>
<text x="641.80" y="638.10" class="tr">1</text>
<text x="669.40" y="635.40" class="ts">-1/2</text>
<rect x="600.0" y="642.60" width="83.0" height="27.7" fill="#d42123"/>
<text x="613.90" y="665.80" class="tr">5</text>
<text x="641.80" y="665.80" class="tr">0</text>
<text x="669.40" y="663.10" class="ts">1/2</text>
<rect x="600.0" y="670.30" width="83.0" height="27.7" fill="#d67e7e"/>
<text x="613.90" y="693.50" class="tr">5</text>
<text x="641.80" y="693.50" class="tr">0</text>
<text x="669.40" y="690.80" class="ts">-1/2</text>
<rect x="600.0" y="698.00" width="83.0" height="27.7" fill="#3c76d4"/>
<text x="613.90" y="721.20" class="tr">4</text>
<text x="641.80" y="721.20" class="tr">2</text>
<text x="669.40" y="718.50" class="ts">1/2</text>
<rect x="600.0" y="725.70" width="83.0" height="27.7" fill="#7a8cda"/>
<text x="613.90" y="748.90" class="tr">4</text>
<text x="641.80" y="748.90" class="tr">2</text>
<text x="669.40" y="746.20" class="ts">-1/2</text>
<rect x="600.0" y="753.40" width="83.0" height="27.7" fill="#aa4cd6"/>
<text x="613.90" y="776.60" class="tr">5</text>
<text x="641.80" y="776.60" class="tr">1</text>
<text x="669.40" y="773.90" class="ts">1/2</text>
<rect x="600.0" y="781.10" width="83.0" height="27.7" fill="#b780d6"/>
<text x="613.90" y="804.30" class="tr">5</text>
<text x="641.80" y="804.30" class="tr">1</text>
<text x="669.40" y="801.60" class="ts">-1/2</text>
<rect x="600.0" y="808.80" width="83.0" height="27.7" fill="#d42123"/>
<text x="613.90" y="832.00" class="tr">6</text>
<text x="641.80" y="832.00" class="tr">0</text>
<text x="669.40" y="829.30" class="ts">1/2</text>
<rect x="600.0" y="836.50" width="83.0" height="27.7" fill="#d67e7e"/>
<text x="613.90" y="859.70" class="tr">6</text>
<text x="641.80" y="859.70" class="tr">0</text>
<text x="669.40" y="857.00" class="ts">-1/2</text>
<rect x="600.0" y="864.20" width="83.0" height="27.7" fill="#22a8dc"/>
<text x="613.90" y="887.40" class="tr">4</text>
<text x="641.80" y="887.40" class="tr">3</text>
<text x="669.40" y="884.70" class="ts">1/2</text>
<rect x="600.0" y="891.90" width="83.0" height="27.7" fill="#72c0c4"/>
<text x="613.90" y="915.10" class="tr">4</text>
<text x="641.80" y="915.10" class="tr">3</text>
<text x="669.40" y="912.40" class="ts">-1/2</text>
<rect x="600.0" y="919.60" width="83.0" height="27.7" fill="#3c76d4"/>
<text x="613.90" y="942.80" class="tr">5</text>
<text x="641.80" y="942.80" class="tr">2</text>
<text x="669.40" y="940.10" class="ts">1/2</text>
<rect x="600.0" y="947.30" width="83.0" height="27.7" fill="#7a8cda"/>
<text x="613.90" y="970.50" class="tr">5</text>
<text x="641.80" y="970.50" class="tr">2</text>
<text x="669.40" y="967.80" class="ts">-1/2</text>
<rect x="600.0" y="975.00" width="83.0" height="27.7" fill="#aa4cd6"/>
<text x="613.90" y="998.20" class="tr">6</text>
<text x="641.80" y="998.20" class="tr">1</text>
<text x="669.40" y="995.50" class="ts">1/2</text>
<rect x="600.0" y="1002.70" width="83.0" height="27.7" fill="#b780d6"/>
<text x="613.90" y="1025.90" class="tr">6</text>
<text x="641.80" y="1025.90" class="tr">1</text>
<text x="669.40" y="1023.20" class="ts">-1/2</text>
<rect x="600.0" y="1030.40" width="83.0" height="27.7" fill="#d42123"/>
<text x="613.90" y="1053.60" class="tr">7</text>
<text x="641.80" y="1053.60" class="tr">0</text>
<text x="669.40" y="1050.90" class="ts">1/2</text>
<rect x="600.0" y="1058.10" width="83.0" height="27.7" fill="#d67e7e"/>
<text x="613.90" y="1081.30" class="tr">7</text>
<text x="641.80" y="1081.30" class="tr">0</text>
<text x="669.40" y="1078.60" class="ts">-1/2</text>
<rect x="600.0" y="1085.80" width="83.0" height="27.7" fill="#22a8dc"/>
<text x="613.90" y="1109.00" class="tr">5</text>
<text x="641.80" y="1109.00" class="tr">3</text>
<text x="669.40" y="1106.30" class="ts">1/2</text>
<rect x="600.0" y="1113.50" width="83.0" height="27.7" fill="#72c0c4"/>
<text x="613.90" y="1136.70" class="tr">5</text>
<text x="641.80" y="1136.70" class="tr">3</text>
<text x="669.40" y="1134.00" class="ts">-1/2</text>
<rect x="600.0" y="1141.20" width="83.0" height="27.7" fill="#3c76d4"/>
<text x="613.90" y="1164.40" class="tr">6</text>
<text x="641.80" y="1164.40" class="tr">2</text>
<text x="669.40" y="1161.70" class="ts">1/2</text>
<rect x="600.0" y="1168.90" width="83.0" height="27.7" fill="#7a8cda"/>
<text x="613.90" y="1192.10" class="tr">6</text>
<text x="641.80" y="1192.10" class="tr">2</text>
<text x="669.40" y="1189.40" class="ts">-1/2</text>
<rect x="600.0" y="1196.60" width="83.0" height="27.7" fill="#aa4cd6"/>
<text x="613.90" y="1219.80" class="tr">7</text>
<text x="641.80" y="1219.80" class="tr">1</text>
<text x="669.40" y="1217.10" class="ts">1/2</text>
<rect x="600.0" y="1224.30" width="83.0" height="27.7" fill="#b780d6"/>
<text x="613.90" y="1247.50" class="tr">7</text>
<text x="641.80" y="1247.50" class="tr">1</text>
<text x="669.40" y="1244.80" class="ts">-1/2</text>
<rect x="600.0" y="1252.00" width="83.0" height="27.7" fill="#d42123"/>
<text x="613.90" y="1275.20" class="tr">8</text>
<text x="641.80" y="1275.20" class="tr">0</text>
<text x="669.40" y="1272.50" class="ts">1/2</text>
<rect x="600.0" y="1279.70" width="83.0" height="27.7" fill="#d67e7e"/>
<text x="613.90" y="1302.90" class="tr">8</text>
<text x="641.80" y="1302.90" class="tr">0</text>
<text x="669.40" y="1300.20" class="ts">-1/2</text>
<path d="M600.0 171.7H683.0 M600.0 199.40H683.0 M600.0 227.10H683.0 M600.0 254.80H683.0 M600.0 282.50H683.0 M600.0 310.20H683.0 M600.0 337.90H683.0 M600.0 365.60H683.0 M600.0 393.30H683.0 M600.0 421.00H683.0 M600.0 448.70H683.0 M600.0 476.40H683.0 M600.0 504.10H683.0 M600.0 531.80H683.0 M600.0 559.50H683.0 M600.0 587.20H683.0 M600.0 614.90H683.0 M600.0 642.60H683.0 M600.0 670.30H683.0 M600.0 698.00H683.0 M600.0 725.70H683.0 M600.0 753.40H683.0 M600.0 781.10H683.0 M600.0 808.80H683.0 M600.0 836.50H683.0 M600.0 864.20H683.0 M600.0 891.90H683.0 M600.0 919.60H683.0 M600.0 947.30H683.0 M600.0 975.00H683.0 M600.0 1002.70H683.0 M600.0 1030.40H683.0 M600.0 1058.10H683.0 M600.0 1085.80H683.0 M600.0 1113.50H683.0 M600.0 1141.20H683.0 M600.0 1168.90H683.0 M600.0 1196.60H683.0 M600.0 1224.30H683.0 M600.0 1252.00H683.0 M600.0 1279.70H683.0 M600.0 1307.40H683.0 M600.0 171.7V1307.40 M627.8 171.7V1307.40 M655.8 171.7V1307.40 M683.0 171.7V1307.40" stroke="#a3a3a3" stroke-width="2" fill="none"/>
<text x="614.90" y="192.2" class="th" style="font-size:27.5px">n</text>
<text x="641.80" y="195" class="th">l</text>
<text x="669.90" y="192.2" class="th" style="font-size:26px">s</text>
<text x="357.4" y="1360.2" class="cap">FRONT VIEW</text>
</svg></body></html>
